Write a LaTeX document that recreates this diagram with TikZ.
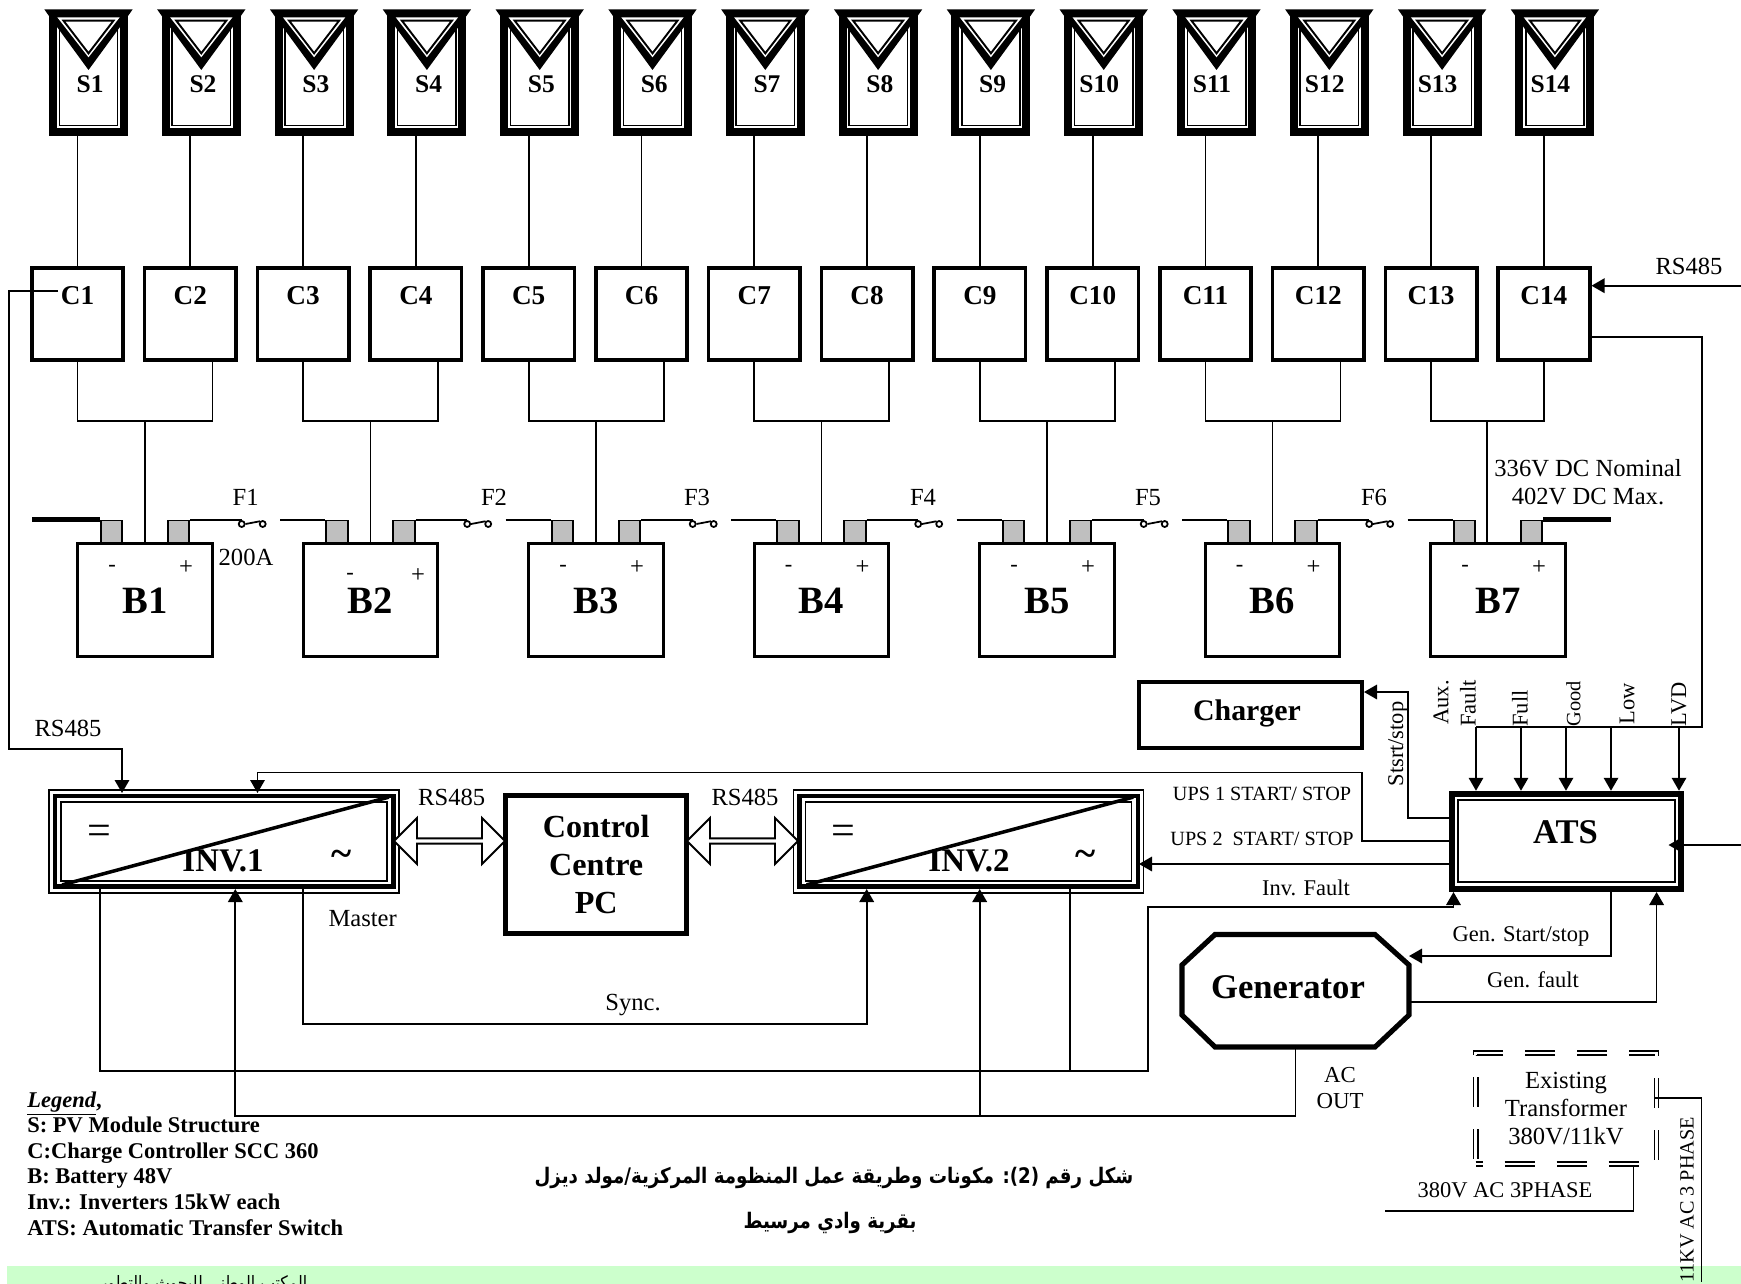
\documentclass[tikz,border=0pt]{standalone}
\usepackage{fontspec}
\usepackage{xcolor}
\setmainfont{Liberation Serif}
\newfontfamily\arabicfont[Script=Arabic, FakeStretch=0.85]{DejaVu Sans}
\TeXXeTstate=1
\usetikzlibrary{arrows.meta, shapes.arrows}

\begin{document}
\begin{tikzpicture}[>={Triangle[length=0.26cm, width=0.29cm]}, x=0.02cm, y=-0.02cm,
  wire/.style={line width=1pt},
  lbl/.style={font=\fontsize{14}{16.2}\selectfont, inner sep=0pt, align=center},
  sm/.style={font=\fontsize{12.8}{14}\selectfont, inner sep=0pt},
  ups/.style={font=\fontsize{11.5}{13}\selectfont, inner sep=0pt},
  mlbl/.style={font=\bfseries\fontsize{14.5}{16}\selectfont, inner sep=0pt},
  clbl/.style={font=\bfseries\fontsize{15.5}{17}\selectfont, inner sep=0pt},
  blbl/.style={font=\bfseries\fontsize{22}{24}\selectfont, inner sep=0pt},
  head/.style={font=\bfseries\fontsize{19.7}{22}\selectfont, inner sep=0pt},
  invlbl/.style={font=\bfseries\fontsize{18.8}{20}\selectfont, inner sep=0pt},
  dcsym/.style={font=\fontsize{24}{26}\selectfont, inner sep=0pt},
  acsym/.style={font=\bfseries\fontsize{22}{24}\selectfont, inner sep=0pt},
  ctrl/.style={draw, line width=2.1pt, minimum width=1.83cm, minimum height=1.83cm},
  batt/.style={draw, line width=1.9pt, minimum width=2.69cm, minimum height=2.26cm},
  term/.style={draw, fill=black!25, line width=1pt, minimum width=0.43cm, minimum height=0.44cm, inner sep=0pt},
  fuse/.style={circle, draw, line width=1pt, minimum size=0.12cm, inner sep=0pt},
  invouter/.style={draw, line width=0.9pt, minimum width=7cm, minimum height=2.07cm},
  invthick/.style={draw, line width=2.6pt, minimum width=6.77cm, minimum height=1.81cm},
  invinner/.style={draw, line width=1pt, minimum width=6.52cm, minimum height=1.58cm},
  rsarrow/.style={double arrow, draw, fill=white, line width=1.1pt, minimum width=0.92cm, minimum height=2.22cm, double arrow head extend=0.15cm, inner sep=0pt},
  arabiccap/.style={font=\arabicfont\bfseries\fontsize{12.2}{15}\selectfont, inner sep=0pt},
  pvmodule/.pic={
    \node[draw, line width=4.5pt, minimum width=1.42cm, minimum height=2.36cm] (-box) at (0,0) {};
    \draw[line width=0.9pt] (-29.2,-50) rectangle (29.2,52.5);
    \fill (-44.2,-63.7) -- (44.2,-63.7) -- (39.5,-57) -- (0,-3) -- (-39.5,-57) -- cycle;
    \fill[white] (-31.2,-55.7) -- (31.2,-55.7) -- (0,-15.7) -- cycle;
    \draw[line width=1.1pt] (-25,-52.3) -- (25,-52.3) -- (0,-19.7) -- cycle;
  }]
  \useasboundingbox (0,0) rectangle (1741,1284);
  % Footer band, its text runs off the page
  \fill[green!20] (7,1266) rectangle (1741,1290);
  \node[font=\arabicfont\fontsize{10.5}{12}\selectfont, inner sep=0pt] (foot) at (201,1285) {\beginR المكتب الوطني للبحوث والتطوير\endR};

  % PV module structures
  \pic (s1) at (88.5,73) {pvmodule};
  \pic (s2) at (201.3,73) {pvmodule};
  \pic (s3) at (314.1,73) {pvmodule};
  \pic (s4) at (426.9,73) {pvmodule};
  \pic (s5) at (539.7,73) {pvmodule};
  \pic (s6) at (652.5,73) {pvmodule};
  \pic (s7) at (765.3,73) {pvmodule};
  \pic (s8) at (878.1,73) {pvmodule};
  \pic (s9) at (990.9,73) {pvmodule};
  \pic (s10) at (1103.7,73) {pvmodule};
  \pic (s11) at (1216.5,73) {pvmodule};
  \pic (s12) at (1329.3,73) {pvmodule};
  \pic (s13) at (1442.1,73) {pvmodule};
  \pic (s14) at (1554.9,73) {pvmodule};
  \node[mlbl] (st1) at (90.2,84) {S1};
  \node[mlbl] (st2) at (203,84) {S2};
  \node[mlbl] (st3) at (315.8,84) {S3};
  \node[mlbl] (st4) at (428.6,84) {S4};
  \node[mlbl] (st5) at (541.4,84) {S5};
  \node[mlbl] (st6) at (654.2,84) {S6};
  \node[mlbl] (st7) at (767,84) {S7};
  \node[mlbl] (st8) at (879.8,84) {S8};
  \node[mlbl] (st9) at (992.6,84) {S9};
  \node[mlbl] (st10) at (1099.2,84) {S10};
  \node[mlbl] (st11) at (1212,84) {S11};
  \node[mlbl] (st12) at (1324.8,84) {S12};
  \node[mlbl] (st13) at (1437.6,84) {S13};
  \node[mlbl] (st14) at (1550.4,84) {S14};

  % Charge controllers
  \node[ctrl] (c1) at (77.5,314) {};
  \node[ctrl] (c2) at (190.3,314) {};
  \node[ctrl] (c3) at (303.1,314) {};
  \node[ctrl] (c4) at (415.9,314) {};
  \node[ctrl] (c5) at (528.7,314) {};
  \node[ctrl] (c6) at (641.5,314) {};
  \node[ctrl] (c7) at (754.3,314) {};
  \node[ctrl] (c8) at (867.1,314) {};
  \node[ctrl] (c9) at (979.9,314) {};
  \node[ctrl] (c10) at (1092.7,314) {};
  \node[ctrl] (c11) at (1205.5,314) {};
  \node[ctrl] (c12) at (1318.3,314) {};
  \node[ctrl] (c13) at (1431.1,314) {};
  \node[ctrl] (c14) at (1543.9,314) {};
  \node[clbl] (ct1) at (77.5,296) {C1};
  \node[clbl] (ct2) at (190.3,296) {C2};
  \node[clbl] (ct3) at (303.1,296) {C3};
  \node[clbl] (ct4) at (415.9,296) {C4};
  \node[clbl] (ct5) at (528.7,296) {C5};
  \node[clbl] (ct6) at (641.5,296) {C6};
  \node[clbl] (ct7) at (754.3,296) {C7};
  \node[clbl] (ct8) at (867.1,296) {C8};
  \node[clbl] (ct9) at (979.9,296) {C9};
  \node[clbl] (ct10) at (1092.7,296) {C10};
  \node[clbl] (ct11) at (1205.5,296) {C11};
  \node[clbl] (ct12) at (1318.3,296) {C12};
  \node[clbl] (ct13) at (1431.1,296) {C13};
  \node[clbl] (ct14) at (1543.9,296) {C14};

  % Module to controller
  \draw[wire] (s1-box.south -| c1) -- (c1.north);
  \draw[wire] (s2-box.south -| c2) -- (c2.north);
  \draw[wire] (s3-box.south -| c3) -- (c3.north);
  \draw[wire] (s4-box.south -| c4) -- (c4.north);
  \draw[wire] (s5-box.south -| c5) -- (c5.north);
  \draw[wire] (s6-box.south -| c6) -- (c6.north);
  \draw[wire] (s7-box.south -| c7) -- (c7.north);
  \draw[wire] (s8-box.south -| c8) -- (c8.north);
  \draw[wire] (s9-box.south -| c9) -- (c9.north);
  \draw[wire] (s10-box.south -| c10) -- (c10.north);
  \draw[wire] (s11-box.south -| c11) -- (c11.north);
  \draw[wire] (s12-box.south -| c12) -- (c12.north);
  \draw[wire] (s13-box.south -| c13) -- (c13.north);
  \draw[wire] (s14-box.south -| c14) -- (c14.north);

  % Battery terminals, then batteries on top
  \node[term] (tl1) at (111.5,531.5) {};
  \node[term] (tr1) at (178.5,531.5) {};
  \node[term] (tl2) at (337,531.5) {};
  \node[term] (tr2) at (404,531.5) {};
  \node[term] (tl3) at (562.5,531.5) {};
  \node[term] (tr3) at (629.5,531.5) {};
  \node[term] (tl4) at (788,531.5) {};
  \node[term] (tr4) at (855,531.5) {};
  \node[term] (tl5) at (1013.5,531.5) {};
  \node[term] (tr5) at (1080.5,531.5) {};
  \node[term] (tl6) at (1239,531.5) {};
  \node[term] (tr6) at (1306,531.5) {};
  \node[term] (tl7) at (1464.5,531.5) {};
  \node[term] (tr7) at (1531.5,531.5) {};
  \node[batt] (b1) at (145,600) {};
  \node[batt] (b2) at (370.5,600) {};
  \node[batt] (b3) at (596,600) {};
  \node[batt] (b4) at (821.5,600) {};
  \node[batt] (b5) at (1047,600) {};
  \node[batt] (b6) at (1272.5,600) {};
  \node[batt] (b7) at (1498,600) {};
  \node[blbl] (bt1) at (145,601) {B1};
  \node[blbl] (bt2) at (370.5,601) {B2};
  \node[blbl] (bt3) at (596,601) {B3};
  \node[blbl] (bt4) at (821.5,601) {B4};
  \node[blbl] (bt5) at (1047,601) {B5};
  \node[blbl] (bt6) at (1272.5,601) {B6};
  \node[blbl] (bt7) at (1498,601) {B7};
  \node[sm] (m1) at (112,568) {-};
  \node[lbl] (p1) at (186,568) {+};
  \node[sm] (m2) at (350,576) {-};
  \node[lbl] (p2) at (418,576) {+};
  \node[sm] (m3) at (563,568) {-};
  \node[lbl] (p3) at (637,568) {+};
  \node[sm] (m4) at (788.5,568) {-};
  \node[lbl] (p4) at (862.5,568) {+};
  \node[sm] (m5) at (1014,568) {-};
  \node[lbl] (p5) at (1088,568) {+};
  \node[sm] (m6) at (1239.5,568) {-};
  \node[lbl] (p6) at (1313.5,568) {+};
  \node[sm] (m7) at (1465,568) {-};
  \node[lbl] (p7) at (1539,568) {+};

  % Controller pairs down to the batteries
  \coordinate (bus1) at (145,421);
  \coordinate (bus2) at (370.5,421);
  \coordinate (bus3) at (596,421);
  \coordinate (bus4) at (821.5,421);
  \coordinate (bus5) at (1047,421);
  \coordinate (bus6) at (1272.5,421);
  \coordinate (bus7) at (1487,421);
  \draw[wire] (c1.south) |- (bus1) -| ([xshift=0.444cm]c2.south);
  \draw[wire] (c3.south) |- (bus2) -| ([xshift=0.444cm]c4.south);
  \draw[wire] (c5.south) |- (bus3) -| ([xshift=0.444cm]c6.south);
  \draw[wire] (c7.south) |- (bus4) -| ([xshift=0.444cm]c8.south);
  \draw[wire] (c9.south) |- (bus5) -| ([xshift=0.444cm]c10.south);
  \draw[wire] (c11.south) |- (bus6) -| ([xshift=0.444cm]c12.south);
  \draw[wire] (c13.south) |- (bus7) -| (c14.south);
  \draw[wire] (bus1) -- (b1.north);
  \draw[wire] (bus2) -- (b2.north);
  \draw[wire] (bus3) -- (b3.north);
  \draw[wire] (bus4) -- (b4.north);
  \draw[wire] (bus5) -- (b5.north);
  \draw[wire] (bus6) -- (b6.north);
  \draw[wire] (bus7) -- (bus7 |- b7.north);

  % Fuses between batteries
  \node[fuse] (fa1) at (241.7,524) {};
  \node[fuse] (fb1) at (262.7,524) {};
  \node[fuse] (fa2) at (467.2,524) {};
  \node[fuse] (fb2) at (488.2,524) {};
  \node[fuse] (fa3) at (692.7,524) {};
  \node[fuse] (fb3) at (713.7,524) {};
  \node[fuse] (fa4) at (918.2,524) {};
  \node[fuse] (fb4) at (939.2,524) {};
  \node[fuse] (fa5) at (1143.7,524) {};
  \node[fuse] (fb5) at (1164.7,524) {};
  \node[fuse] (fa6) at (1369.2,524) {};
  \node[fuse] (fb6) at (1390.2,524) {};
  \coordinate (fe1) at (280,520);
  \coordinate (fe2) at (505.5,520);
  \coordinate (fe3) at (731,520);
  \coordinate (fe4) at (956.5,520);
  \coordinate (fe5) at (1182,520);
  \coordinate (fe6) at (1407.5,520);
  \draw[wire] (tr1.north east) -- (tr1.north east -| fa1);
  \draw[wire] (tr2.north east) -- (tr2.north east -| fa2);
  \draw[wire] (tr3.north east) -- (tr3.north east -| fa3);
  \draw[wire] (tr4.north east) -- (tr4.north east -| fa4);
  \draw[wire] (tr5.north east) -- (tr5.north east -| fa5);
  \draw[wire] (tr6.north east) -- (tr6.north east -| fa6);
  \draw[wire] (fa1.east) -- (fb1.north west);
  \draw[wire] (fa2.east) -- (fb2.north west);
  \draw[wire] (fa3.east) -- (fb3.north west);
  \draw[wire] (fa4.east) -- (fb4.north west);
  \draw[wire] (fa5.east) -- (fb5.north west);
  \draw[wire] (fa6.east) -- (fb6.north west);
  \draw[wire] (fe1 |- tl2.north) -- (tl2.north west);
  \draw[wire] (fe2 |- tl3.north) -- (tl3.north west);
  \draw[wire] (fe3 |- tl4.north) -- (tl4.north west);
  \draw[wire] (fe4 |- tl5.north) -- (tl5.north west);
  \draw[wire] (fe5 |- tl6.north) -- (tl6.north west);
  \draw[wire] (fe6 |- tl7.north) -- (tl7.north west);
  \node[lbl] (f1) at (245.7,497.7) {F1};
  \node[lbl] (f2) at (494,497.7) {F2};
  \node[lbl] (f3) at (697,497.7) {F3};
  \node[lbl] (f4) at (923,497.7) {F4};
  \node[lbl] (f5) at (1148,497.7) {F5};
  \node[lbl] (f6) at (1374,497.7) {F6};
  \node[lbl] (amps) at (246,557) {200A};
  \node[lbl] (volts) at (1588,482) {336V DC Nominal\\402V DC Max.};
  % Bank ends
  \coordinate (endl) at (32,520);
  \coordinate (endr) at (1611,520);
  \draw[line width=3pt] (endl |- tl1.north) -- (tl1.north west);
  \draw[line width=3pt] (tr7.north east) -- (endr |- tr7.north);

  % Inverters
  \node[invouter] (inv1o) at (224,841.5) {};
  \node[invthick] (inv1) at (224.3,841.2) {};
  \node[invlbl] (inv1t) at (223,861) {INV.1};
  \fill[white] (62,803) -- (386,803) -- (62,880) -- cycle;
  \node[invinner] (inv1i) at (224,841.5) {};
  \draw[line width=2pt] ([shift={(2,3)}]inv1i.south west) -- ([shift={(1,-4)}]inv1i.north east);
  \node[dcsym] (inv1dc) at (99.3,835) {=};
  \node[acsym] (inv1ac) at (342,858) {\textasciitilde};
  \node[invouter] (inv2o) at (968.4,841.5) {};
  \node[invthick] (inv2) at (968.7,841.2) {};
  \node[invlbl] (inv2t) at (969,861) {INV.2};
  \fill[white] (806.4,803) -- (1130.4,803) -- (806.4,880) -- cycle;
  \node[invinner] (inv2i) at (968.4,841.5) {};
  \draw[line width=2pt] ([shift={(2,3)}]inv2i.south west) -- ([shift={(1,-4)}]inv2i.north east);
  \node[dcsym] (inv2dc) at (843.7,835) {=};
  \node[acsym] (inv2ac) at (1086,858) {\textasciitilde};
  \node[lbl] (master) at (362.7,919) {Master};

  % Control centre and its RS485 links
  \node[draw, line width=2.85pt, minimum width=3.62cm, minimum height=2.75cm, align=center, font=\bfseries\fontsize{18.3}{21.6}\selectfont, inner sep=0pt] (pc) at (596.2,864.3) {Control\\Centre\\PC};
  \node[rsarrow] (rsa) at (449.5,841) {};
  \node[rsarrow] (rsb) at (742.5,841) {};
  \node[lbl] (rs1) at (451.7,797) {RS485};
  \node[lbl] (rs2) at (745,797) {RS485};

  % ATS, charger, generator
  \node[draw, line width=3.7pt, minimum width=4.58cm, minimum height=1.9cm] (ats) at (1566.5,841.5) {};
  \node[draw, line width=1.1pt, minimum width=4.34cm, minimum height=1.63cm] (atsi) at (1566.5,841) {};
  \node[head] (atst) at (1565.5,832) {ATS};
  \node[draw, line width=2pt, minimum width=4.47cm, minimum height=1.33cm] (chg) at (1250.5,715) {};
  \node[font=\bfseries\fontsize{17}{19}\selectfont, inner sep=0pt] (chgt) at (1247,713) {Charger};
  \node[minimum width=4.54cm, minimum height=2.25cm, inner sep=0pt] (gen) at (1295.5,990.5) {};
  \draw[line width=2.9pt] (1215,934.5) -- (1375,934.5) -- (1409,965) -- (1409,1015) -- (1375,1047) -- (1215,1047) -- (1182,1015) -- (1182,965) -- cycle;
  \node[head] (gent) at (1288,987) {Generator};

  % Existing transformer
  \node[draw, double, double distance=1.4pt, line width=1pt, dash pattern=on 17.1pt off 12.5pt, dash phase=13pt, minimum width=3.62cm, minimum height=2.22cm, align=center, font=\fontsize{14}{16.2}\selectfont, inner sep=0pt] (trafo) at (1566,1108.5) {Existing\\Transformer\\380V/11kV};

  % Points where wires meet blocks
  \coordinate (c1tap) at (58,290.7);
  \coordinate (rstop) at (9.3,290.7);
  \coordinate (rsbot) at (9.3,749);
  \coordinate (inv1rs) at (122,793);
  \coordinate (inv1ups) at (257.5,793);
  \coordinate (inv1out) at (100,889);
  \coordinate (inv1in) at (235.3,889);
  \coordinate (inv1sync) at (302.7,889);
  \coordinate (inv2sync) at (866.7,889);
  \coordinate (inv2in) at (979.7,889);
  \coordinate (inv2out) at (1070,889);
  \coordinate (inv2flt) at (1139,864);
  \coordinate (syncc) at (866.7,1024);
  \coordinate (fltc) at (1148,1070.7);
  \coordinate (fltd) at (1148,907);
  \coordinate (atsflt) at (1453.5,892);
  \coordinate (acbus) at (979.7,1116);
  \coordinate (atsups) at (1449,841);
  \coordinate (upsa) at (1362,841);
  \coordinate (upsb) at (1362,772.5);
  \coordinate (atsinv) at (1449,864);
  \coordinate (atschg) at (1449,818);
  \coordinate (chga) at (1408,818);
  \coordinate (chgb) at (1408,692);
  \coordinate (chgin) at (1364,692);
  \coordinate (atsgen) at (1611,892);
  \coordinate (genin) at (1409,956);
  \coordinate (genout) at (1411,1001.7);
  \coordinate (atsfb) at (1656.6,892);
  \coordinate (c14out) at (1590,336.7);
  \coordinate (sigc) at (1702,336.7);
  \coordinate (sig0) at (1702,727);
  \coordinate (sig1) at (1476,727);
  \coordinate (sig2) at (1521,727);
  \coordinate (sig3) at (1566,727);
  \coordinate (sig4) at (1611,727);
  \coordinate (sig5) at (1679,727);
  \coordinate (rsin) at (1741,285.7);
  \coordinate (hvin) at (1741,845);
  \coordinate (atshv) at (1668.5,845);
  \coordinate (trout) at (1655.4,1098);
  \coordinate (hva) at (1701.4,1098);
  \coordinate (hvb) at (1701.4,1282);
  \coordinate (trlow) at (1633.6,1165);
  \coordinate (lowa) at (1633.6,1210.7);
  \coordinate (lowb) at (1384.5,1210.7);

  % Communication
  \draw[->, wire] (c1tap) -- (rstop) -- (rsbot) -| (inv1rs);
  \draw[->, wire] (rsin) -- (rsin -| c14.east);
  % Battery signals into the ATS
  \draw[wire] (c14out) -- (sigc) -- (sig0) -- (sig1);
  \draw[->, wire] (sig1) -- (sig1 |- ats.north);
  \draw[->, wire] (sig2) -- (sig2 |- ats.north);
  \draw[->, wire] (sig3) -- (sig3 |- ats.north);
  \draw[->, wire] (sig4) -- (sig4 |- ats.north);
  \draw[->, wire] (sig5) -- (sig5 |- ats.north);
  % ATS commands
  \draw[->, wire] (atsups) -- (upsa) -- (upsb) -| (inv1ups);
  \draw[->, wire] (atsinv) -- (inv2flt);
  \draw[->, wire] (atschg) -- (chga) -- (chgb) -- (chgin);
  \draw[->, wire] (atsgen) |- (genin);
  \draw[->, wire] (genout) -| (atsfb);
  % Inverter loops
  \draw[->, wire] (inv1sync) |- (syncc) -- (inv2sync);
  \draw[->, wire] (inv1out) |- (fltc) -- (fltd) -| (atsflt);
  \draw[wire] (inv2out) -- (inv2out |- fltc);
  \draw[wire] (gen.south) |- (acbus);
  \draw[->, wire] (acbus) -- (inv2in);
  \draw[->, wire] (acbus) -| (inv1in);
  % Transformer
  \draw[->, wire] (hvin) -- (atshv);
  \draw[wire] (trout) -- (hva) -- (hvb);
  \draw[wire] (trlow) -- (lowa) -- (lowb);

  % Signal labels
  \node[lbl] (rs3) at (68,728) {RS485};
  \node[lbl] (rs4) at (1689,266) {RS485};
  \node[sm, rotate=90, anchor=west] (aux) at (1441,725) {Aux.};
  \node[sm, rotate=90, anchor=west] (flt) at (1468,727) {Fault};
  \node[sm, rotate=90, anchor=west] (full) at (1520,727) {Full};
  \node[sm, rotate=90, anchor=west, font=\fontsize{11.6}{13}\selectfont] (good) at (1573.5,727) {Good};
  \node[sm, rotate=90, anchor=west] (low) at (1627,725) {Low};
  \node[sm, rotate=90, anchor=west] (lvd) at (1679,727) {LVD};
  \node[sm, rotate=90] (stsrt) at (1398,744) {Stsrt/stop};
  \node[ups] (ups1) at (1262,794) {UPS 1 START/ STOP};
  \node[ups] (ups2) at (1262,839) {UPS 2\ \ START/ STOP};
  \node[sm] (invf) at (1306,888) {Inv. Fault};
  \node[sm] (gss) at (1521,936) {Gen. Start/stop};
  \node[sm] (gfl) at (1533,980) {Gen. fault};
  \node[lbl] (sync) at (633,1005) {Sync.};
  \node[sm, align=center, font=\fontsize{13}{14.6}\selectfont] (acout) at (1340,1088) {AC\\OUT};
  \node[sm] (low380) at (1505,1190) {380V AC 3PHASE};
  \node[font=\fontsize{11.5}{13}\selectfont, inner sep=0pt, rotate=90] (hv11) at (1687,1200) {11KV AC 3 PHASE};

  % Legend and caption
  \node[font=\bfseries\fontsize{12.8}{14.6}\selectfont, align=left, anchor=west, inner sep=0pt] (legendtxt) at (27,1163.5)
    {\textit{\underline{Legend}},\\S: PV Module Structure\\C:Charge Controller SCC 360\\B: Battery 48V\\Inv.: Inverters 15kW each\\ATS: Automatic Transfer Switch};
  \node[arabiccap] (cap1) at (834,1178) {\beginR شكل رقم \beginL(2)\endL: مكونات وطريقة عمل المنظومة المركزية/مولد ديزل\endR};
  \node[arabiccap] (cap2) at (830,1223) {\beginR بقرية وادي مرسيط\endR};
\end{tikzpicture}
\end{document}
